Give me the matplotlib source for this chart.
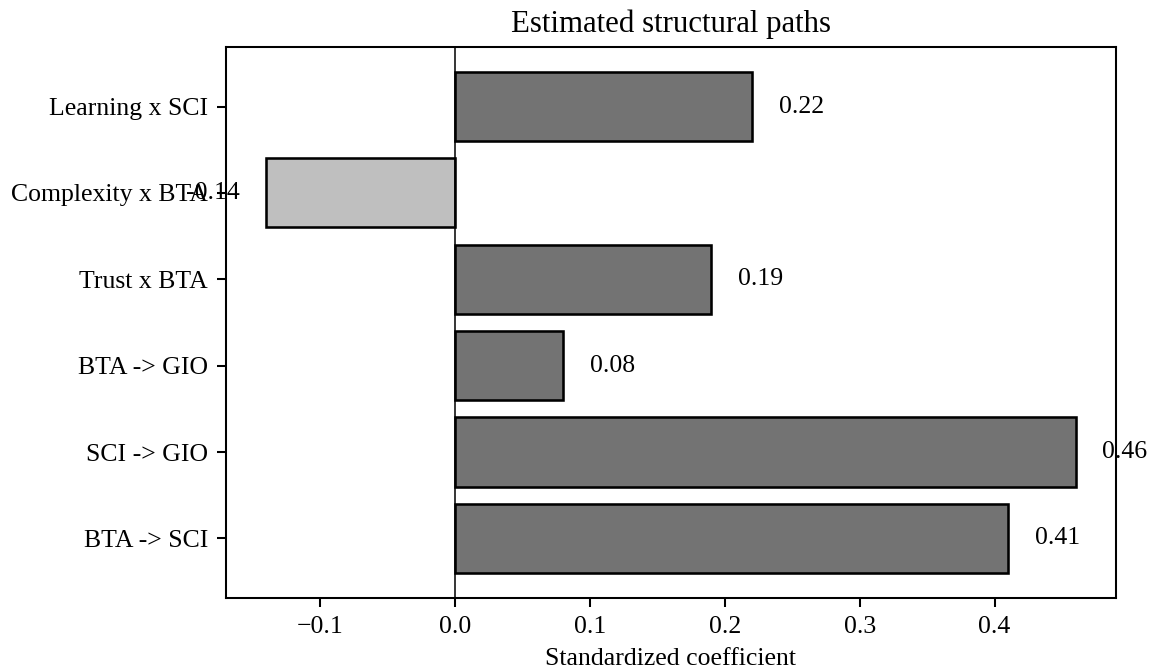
import matplotlib
matplotlib.use("Agg")
import matplotlib.pyplot as plt

plt.rcParams.update({
    "font.family": ["Liberation Serif", "DejaVu Serif"],
    "font.size": 10,
})

# paths listed bottom to top
paths = ["BTA -> SCI", "SCI -> GIO", "BTA -> GIO", "Trust x BTA",
         "Complexity x BTA", "Learning x SCI"]
coefs = [0.41, 0.46, 0.08, 0.19, -0.14, 0.22]

pos_color = "#737373"
neg_color = "#bfbfbf"

DPI = 185
fig = plt.figure(figsize=(1155 / DPI, 671 / DPI), dpi=DPI)
ax = fig.add_axes([0.1957, 0.1088, 0.7705, 0.8212])

colors = [pos_color if c >= 0 else neg_color for c in coefs]
ax.barh(paths, coefs, height=0.8, color=colors, edgecolor="black", linewidth=1.0)
ax.axvline(0, color="black", lw=0.6)

for i, c in enumerate(coefs):
    if c >= 0:
        ax.text(c + 0.02, i, f"{c:.2f}", ha="left", va="center")
    else:
        ax.text(c - 0.02, i, f"{c:.2f}", ha="right", va="center")

ax.set_xlabel("Standardized coefficient")
ax.set_title("Estimated structural paths", fontsize=12)

fig.savefig("out.png", dpi=DPI, facecolor="white")
